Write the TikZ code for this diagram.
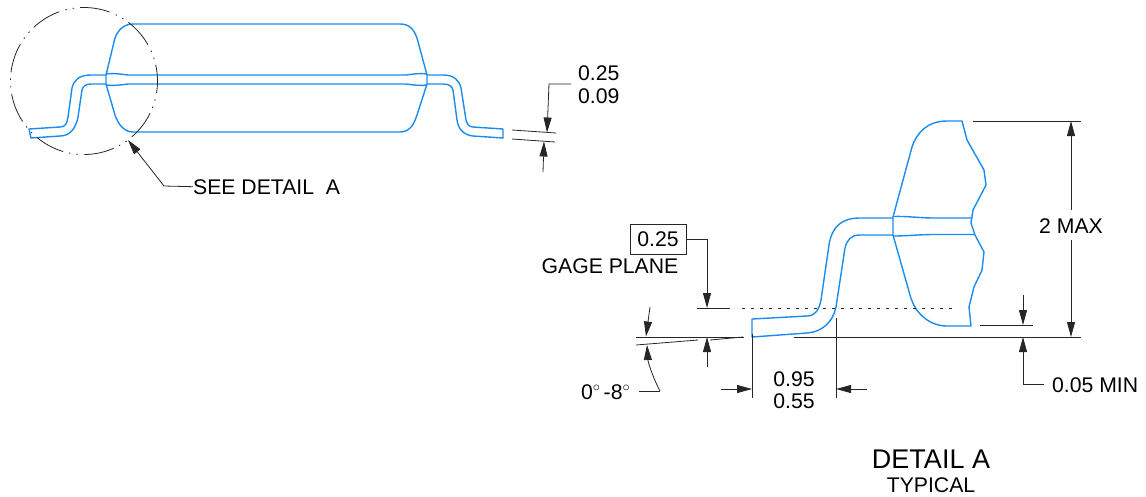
\documentclass[tikz,border=0pt]{standalone}
\usepackage{fontspec}
\setmainfont{Liberation Sans}
\usetikzlibrary{arrows.meta}
\tikzset{
	outline/.style={draw=blue1,line width=1.4pt,line join=round},
	thinline/.style={draw=black!85,line width=0.8pt},
	dimarrow/.style={thinline,-{Triangle[length=15pt,width=8pt]}},
	label/.style={font=\fontsize{21.2}{21.2}\selectfont,inner sep=0pt},
}
\begin{document}
\begin{tikzpicture}[x=1pt,y=-1pt]
	\definecolor{blue1}{HTML}{1A8CF0}
	\useasboundingbox (0,0) rectangle (1146,496);
	% side view
	\draw[outline] (133,24) -- (400,24) .. controls (410,24) and (414,30) .. (417,38) -- (427,75) -- (427,84) -- (417,115)
	.. controls (414,124) and (410,132) .. (400,132) -- (133,132) .. controls (124,132) and (118,124) .. (115,115)
	-- (106,84) -- (106,75) -- (115,38) .. controls (118,30) and (124,24) .. (133,24) -- cycle;
	\draw[outline] (106,74) .. controls (114,73) and (120,74) .. (128,75) -- (406,75) .. controls (414,74) and (420,73) .. (427,74);
	\draw[outline] (106,85) .. controls (114,86) and (120,85) .. (128,84) -- (406,84) .. controls (414,85) and (420,86) .. (427,85);
	\draw[outline] (106,75) -- (91,75) .. controls (79,75) and (74,80) .. (72,88) -- (68,117) .. controls (67,124) and (65,127) .. (60,127)
	-- (29,129) -- (31,138) -- (60,136) .. controls (70,136) and (76,128) .. (78,117) -- (82,90) .. controls (83,86) and (86,84) .. (91,84) -- (106,84);
	\draw[outline] (427,75) -- (443,75) .. controls (454,75) and (459,80) .. (461,88) -- (466,120) .. controls (467,124) and (469,127) .. (473,127)
	-- (503,129) -- (503,138) -- (473,136) .. controls (463,135) and (458,128) .. (457,120) -- (453,90) .. controls (452,86) and (449,84) .. (443,84) -- (427,84);
	\draw[thinline,dash pattern=on 30pt off 6.5pt on 1.5pt off 6pt on 1.5pt off 6pt,dash phase=18pt] (84,81) circle (73.5);
	% see detail
	\node[label,anchor=base west] (seelabel) at (193,194) {SEE DETAIL\ \ A};
	\coordinate (seebend) at (164,186);
	\coordinate (seetip) at (128,140);
	\draw[dimarrow] (seelabel.west) -- (seebend) -- (seetip);
	% thickness
	\node[label,anchor=base west] (thicktop) at (578,80) {0.25};
	\node[label,anchor=base west] (thickbot) at (578,103) {0.09};
	\draw[thinline] (512,130) -- (556,133);
	\draw[thinline] (512,139) -- (555,142);
	\coordinate (thickstart) at (571,84);
	\coordinate (thickbend) at (549,84);
	\coordinate (thicktipa) at (547,132.5);
	\coordinate (thicktipb) at (544,141.5);
	\coordinate (thicktail) at (543,172);
	\draw[dimarrow] (thickstart) -- (thickbend) -- (thicktipa);
	\draw[dimarrow] (thicktail) -- (thicktipb);
	% detail a
	\draw[outline] (962,121) -- (947,121) .. controls (928,121) and (917,132) .. (912,147) -- (893,217) -- (893,235) -- (910,295)
	.. controls (915,314) and (930,326) .. (947,326) -- (971,326) -- (969,307) -- (974,287) -- (982,270) -- (984,252) -- (975,235)
	-- (971,223) -- (973,210) -- (986,185) -- (984,170) -- (967,140) -- cycle;
	\draw[outline] (893,216.5) .. controls (907,216) and (920,218) .. (933,218) -- (972,218);
	\draw[outline] (893,236) .. controls (907,236) and (920,234.5) .. (933,234.5) -- (975,234.5);
	\draw[outline] (893,218) -- (860,218) .. controls (842,218) and (832,226) .. (829,245) -- (821,300) .. controls (819,310) and (815,316) .. (807,316)
	-- (752,319) -- (752,337) -- (807,333) .. controls (822,332) and (833,322) .. (836,307) -- (845,248) .. controls (847,240) and (851,235) .. (860,235) -- (893,235);
	\draw[thinline,dash pattern=on 2.5pt off 6.5pt] (742,308) -- (955,308);
	% gage plane
	\node[label,draw=black!85,line width=0.8pt,minimum width=56pt,minimum height=30pt] (gagebox) at (658,239) {0.25};
	\node[label,anchor=base] (gagelabel) at (610,273) {GAGE PLANE};
	\coordinate (gagetip) at (707,308);
	\coordinate (gageup) at (707,337);
	\coordinate (gagetail) at (707,367);
	\draw[dimarrow] (gagebox.east) -| (gagetip);
	\draw[dimarrow] (gagetail) -- (gageup);
	\draw[thinline] (697,308) -- (730,308);
	% angle
	\draw[thinline] (636,337) -- (744,337);
	\draw[thinline] (636,345) -- (698,340);
	\draw[thinline] (710,340) -- (743,337);
	\node[label,anchor=base west] (anglelabel) at (581,399) {0$^{\circ}$\hspace{3pt}-8$^{\circ}$};
	\coordinate (anglestart) at (639,391);
	\coordinate (anglebend) at (660,391);
	\coordinate (angletip) at (647,345);
	\coordinate (angletail) at (650,307);
	\coordinate (angletop) at (646,336.5);
	\draw[thinline] (anglestart) -- (anglebend);
	\draw[dimarrow] (anglebend) .. controls (653,378) and (648,362) .. (angletip);
	\draw[dimarrow] (angletail) -- (angletop);
	% foot length
	\node[label,anchor=base] (footmax) at (794,386) {0.95};
	\node[label,anchor=base] (footmin) at (794,408) {0.55};
	\coordinate (foota) at (752,334);
	\coordinate (footb) at (836,318);
	\draw[thinline] (foota) -- (752,398);
	\draw[thinline] (footb) -- (836,398);
	\coordinate (foottaila) at (721,389);
	\coordinate (foottailb) at (867,389);
	\draw[dimarrow] (foottaila) -- (752,389);
	\draw[dimarrow] (foottailb) -- (836,389);
	% height
	\draw[thinline] (973,121) -- (1081,121);
	\draw[thinline] (794,337) -- (1081,337);
	\node[label,anchor=base] (heightlabel) at (1071,233) {2 MAX};
	\coordinate (heighttop) at (1071,121);
	\coordinate (heightbot) at (1071,337);
	\draw[dimarrow] (1071,210) -- (heighttop);
	\draw[dimarrow] (1071,240) -- (heightbot);
	% standoff
	\draw[thinline] (980,325) -- (1033,325);
	\node[label,anchor=base west] (minlabel) at (1052,392) {0.05 MIN};
	\coordinate (mintail) at (1023,295);
	\coordinate (mintop) at (1023,325);
	\coordinate (minbot) at (1023,337);
	\draw[dimarrow] (mintail) -- (mintop);
	\draw[dimarrow] ([xshift=-8pt]minlabel.west) -| (minbot);
	% title
	\node[label,font=\fontsize{27}{27}\selectfont,anchor=base] (detailtitle) at (931,468) {DETAIL A};
	\node[label,anchor=base] (detailsub) at (931,492) {TYPICAL};
\end{tikzpicture}
\end{document}
